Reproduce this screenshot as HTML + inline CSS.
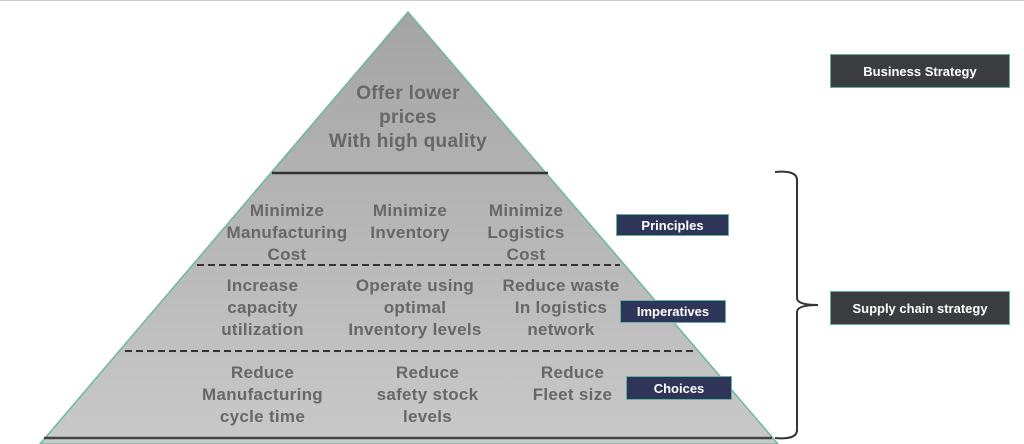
<!DOCTYPE html>
<html><head><style>
body{margin:0;width:1024px;height:444px;background:#fff;overflow:hidden;position:relative;font-family:"Liberation Sans",sans-serif}
.t{position:absolute;color:#676767;font-weight:bold;font-size:17px;line-height:22px;text-align:center;letter-spacing:0.3px}
.b{position:absolute;color:#fff;font-size:13px;font-weight:bold;display:flex;align-items:center;justify-content:center;box-sizing:border-box;border:1.5px solid #5fb39a}
</style></head><body>
<svg width="1024" height="444" style="position:absolute;left:0;top:0">
<defs><linearGradient id="g" x1="0" y1="0" x2="0" y2="1"><stop offset="0" stop-color="#a4a4a4"/><stop offset="1" stop-color="#c9c9c9"/></linearGradient></defs>
<line x1="0" y1="0.5" x2="1024" y2="0.5" stroke="#ccc"/>
<polygon points="408,12 40,444 778,444" fill="url(#g)" stroke="#6fb8a0" stroke-width="1.5"/>
<line x1="272" y1="173" x2="548" y2="173" stroke="#333" stroke-width="2.5"/>
<line x1="197" y1="265" x2="620" y2="265" stroke="#333" stroke-width="2" stroke-dasharray="7,4"/>
<line x1="125" y1="351" x2="694" y2="351" stroke="#333" stroke-width="2" stroke-dasharray="7,4"/>
<line x1="44" y1="438" x2="772" y2="438" stroke="#444" stroke-width="2.5"/>
<path d="M775,172 Q797,170 797,180 L797,298 Q797,305 818,305 Q797,305 797,312 L797,430 Q797,440 775,438" fill="none" stroke="#333" stroke-width="2"/>
</svg>
<div class="t" style="left:298px;top:82px;width:220px;font-size:19px;line-height:24px">Offer lower<br>prices<br>With high quality</div>
<div class="t" style="left:222px;top:200px;width:130px">Minimize<br>Manufacturing<br>Cost</div>
<div class="t" style="left:350px;top:200px;width:120px">Minimize<br>Inventory</div>
<div class="t" style="left:466px;top:200px;width:120px">Minimize<br>Logistics<br>Cost</div>
<div class="t" style="left:200px;top:275px;width:125px">Increase<br>capacity<br>utilization</div>
<div class="t" style="left:340px;top:275px;width:150px">Operate using<br>optimal<br>Inventory levels</div>
<div class="t" style="left:496px;top:275px;width:130px">Reduce waste<br>In logistics<br>network</div>
<div class="t" style="left:195px;top:362px;width:135px">Reduce<br>Manufacturing<br>cycle time</div>
<div class="t" style="left:365px;top:362px;width:125px">Reduce<br>safety stock<br>levels</div>
<div class="t" style="left:520px;top:362px;width:105px">Reduce<br>Fleet size</div>
<div class="b" style="left:616px;top:214px;width:113px;height:22px;background:#2f3558">Principles</div>
<div class="b" style="left:620px;top:300px;width:106px;height:23px;background:#2f3558">Imperatives</div>
<div class="b" style="left:626px;top:376px;width:106px;height:24px;background:#2f3558">Choices</div>
<div class="b" style="left:830px;top:54px;width:180px;height:34px;background:#3b3c3f">Business Strategy</div>
<div class="b" style="left:830px;top:291px;width:180px;height:34px;background:#3b3c3f">Supply chain strategy</div>
</body></html>
